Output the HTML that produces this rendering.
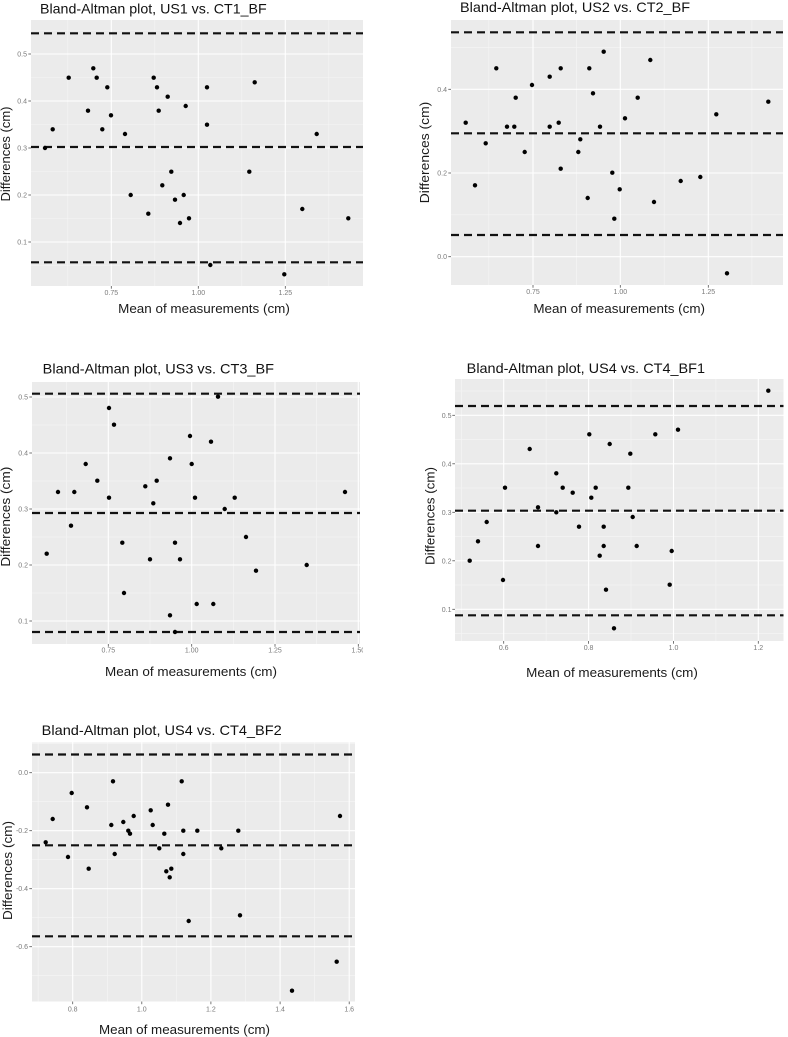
<!DOCTYPE html>
<html>
<head>
<meta charset="utf-8">
<style>
html,body{margin:0;padding:0;background:#fff;}
svg{display:block;}
text{font-family:"Liberation Sans",Arial,sans-serif;}
.t{font-size:14px;fill:#111;}
.ax{font-size:13px;fill:#1a1a1a;}
.tk{font-size:7px;fill:#7a7a7a;}
.mj{stroke:#fff;stroke-width:1.1;}
.mn{stroke:#f6f6f6;stroke-width:0.6;}
.ds{stroke:#111;stroke-width:2.2;stroke-dasharray:8 5;fill:none;}
.tm{stroke:#555;stroke-width:0.8;}
circle{fill:#000;}
</style>
</head>
<body>
<svg width="788" height="1037" viewBox="0 0 788 1037" xmlns="http://www.w3.org/2000/svg">
<rect x="0" y="0" width="788" height="1037" fill="#fff"/>
<defs>
<clipPath id="c3"><rect x="0" y="640" width="363" height="30"/></clipPath>
</defs>

<!-- ================= PANEL 1 ================= -->
<g>
<rect x="31" y="20" width="332" height="266" fill="#EBEBEB"/>
<g class="mn">
<line x1="31" x2="363" y1="265.5" y2="265.5"/><line x1="31" x2="363" y1="218.5" y2="218.5"/><line x1="31" x2="363" y1="171.5" y2="171.5"/><line x1="31" x2="363" y1="124.5" y2="124.5"/><line x1="31" x2="363" y1="77.5" y2="77.5"/><line x1="31" x2="363" y1="30.5" y2="30.5"/>
<line y1="20" y2="286" x1="67.8" x2="67.8"/><line y1="20" y2="286" x1="154.8" x2="154.8"/><line y1="20" y2="286" x1="241.8" x2="241.8"/><line y1="20" y2="286" x1="328.8" x2="328.8"/>
</g>
<g class="mj">
<line x1="31" x2="363" y1="242" y2="242"/><line x1="31" x2="363" y1="195" y2="195"/><line x1="31" x2="363" y1="148" y2="148"/><line x1="31" x2="363" y1="101" y2="101"/><line x1="31" x2="363" y1="54" y2="54"/>
<line y1="20" y2="286" x1="111.3" x2="111.3"/><line y1="20" y2="286" x1="198.3" x2="198.3"/><line y1="20" y2="286" x1="285.3" x2="285.3"/>
</g>
<g class="ds">
<line x1="31" x2="363" y1="33.3" y2="33.3"/><line x1="31" x2="363" y1="147" y2="147"/><line x1="31" x2="363" y1="262.3" y2="262.3"/>
</g>
<g class="tm">
<line x1="28.3" x2="31" y1="242" y2="242"/><line x1="28.3" x2="31" y1="195" y2="195"/><line x1="28.3" x2="31" y1="148" y2="148"/><line x1="28.3" x2="31" y1="101" y2="101"/><line x1="28.3" x2="31" y1="54" y2="54"/>
<line y1="286" y2="288.7" x1="111.3" x2="111.3"/><line y1="286" y2="288.7" x1="198.3" x2="198.3"/><line y1="286" y2="288.7" x1="285.3" x2="285.3"/>
</g>
<g class="tk" text-anchor="end">
<text x="27" y="244.5">0.1</text><text x="27" y="197.5">0.2</text><text x="27" y="150.5">0.3</text><text x="27" y="103.5">0.4</text><text x="27" y="56.5">0.5</text>
</g>
<g class="tk" text-anchor="middle">
<text x="111.3" y="295">0.75</text><text x="198.3" y="295">1.00</text><text x="285.3" y="295">1.25</text>
</g>
<g>
<circle cx="45" cy="148" r="2.2"/><circle cx="52.7" cy="129.3" r="2.2"/><circle cx="68.7" cy="77.7" r="2.2"/><circle cx="88" cy="110.7" r="2.2"/><circle cx="93.3" cy="68.3" r="2.2"/><circle cx="96.7" cy="77.7" r="2.2"/><circle cx="102.3" cy="129.3" r="2.2"/><circle cx="107.3" cy="87.3" r="2.2"/><circle cx="111" cy="115.3" r="2.2"/><circle cx="125" cy="134" r="2.2"/><circle cx="130.7" cy="195" r="2.2"/><circle cx="148.3" cy="213.7" r="2.2"/><circle cx="153.7" cy="77.7" r="2.2"/><circle cx="157" cy="87.3" r="2.2"/><circle cx="158.7" cy="110.7" r="2.2"/><circle cx="162.3" cy="185.3" r="2.2"/><circle cx="167.7" cy="96.7" r="2.2"/><circle cx="171.3" cy="171.7" r="2.2"/><circle cx="175" cy="199.7" r="2.2"/><circle cx="180" cy="223" r="2.2"/><circle cx="183.7" cy="195" r="2.2"/><circle cx="185.7" cy="106" r="2.2"/><circle cx="189" cy="218.3" r="2.2"/><circle cx="207" cy="87.3" r="2.2"/><circle cx="207" cy="124.7" r="2.2"/><circle cx="210.3" cy="265" r="2.2"/><circle cx="249.3" cy="171.7" r="2.2"/><circle cx="254.7" cy="82.3" r="2.2"/><circle cx="284.3" cy="274.3" r="2.2"/><circle cx="302.3" cy="209" r="2.2"/><circle cx="316.7" cy="134" r="2.2"/><circle cx="348.3" cy="218.3" r="2.2"/>
</g>
<text class="t" x="40" y="13.5" textLength="226.7" lengthAdjust="spacingAndGlyphs">Bland-Altman plot, US1 vs. CT1_BF</text>
<text class="ax" x="204" y="313" text-anchor="middle" textLength="171.7" lengthAdjust="spacingAndGlyphs">Mean of measurements (cm)</text>
<text class="ax" transform="translate(10,154) rotate(-90)" text-anchor="middle" textLength="95" lengthAdjust="spacingAndGlyphs">Differences (cm)</text>
</g>

<!-- ================= PANEL 2 ================= -->
<g>
<rect x="451" y="20" width="332" height="265" fill="#EBEBEB"/>
<g class="mn">
<line x1="451" x2="783" y1="214.8" y2="214.8"/><line x1="451" x2="783" y1="131.1" y2="131.1"/><line x1="451" x2="783" y1="47.4" y2="47.4"/>
<line y1="20" y2="285" x1="488.8" x2="488.8"/><line y1="20" y2="285" x1="576.5" x2="576.5"/><line y1="20" y2="285" x1="664.2" x2="664.2"/><line y1="20" y2="285" x1="751.9" x2="751.9"/>
</g>
<g class="mj">
<line x1="451" x2="783" y1="256.7" y2="256.7"/><line x1="451" x2="783" y1="173" y2="173"/><line x1="451" x2="783" y1="89.3" y2="89.3"/>
<line y1="20" y2="285" x1="533" x2="533"/><line y1="20" y2="285" x1="620.3" x2="620.3"/><line y1="20" y2="285" x1="708.3" x2="708.3"/>
</g>
<g class="ds">
<line x1="451" x2="783" y1="32.3" y2="32.3"/><line x1="451" x2="783" y1="133.3" y2="133.3"/><line x1="451" x2="783" y1="235" y2="235"/>
</g>
<g class="tm">
<line x1="448.3" x2="451" y1="256.7" y2="256.7"/><line x1="448.3" x2="451" y1="173" y2="173"/><line x1="448.3" x2="451" y1="89.3" y2="89.3"/>
<line y1="285" y2="287.7" x1="533" x2="533"/><line y1="285" y2="287.7" x1="620.3" x2="620.3"/><line y1="285" y2="287.7" x1="708.3" x2="708.3"/>
</g>
<g class="tk" text-anchor="end">
<text x="447" y="259.2">0.0</text><text x="447" y="175.5">0.2</text><text x="447" y="91.8">0.4</text>
</g>
<g class="tk" text-anchor="middle">
<text x="533" y="294">0.75</text><text x="620.3" y="294">1.00</text><text x="708.3" y="294">1.25</text>
</g>
<g>
<circle cx="465.7" cy="122.7" r="2.2"/><circle cx="475" cy="185.3" r="2.2"/><circle cx="485.7" cy="143.3" r="2.2"/><circle cx="496.3" cy="68.3" r="2.2"/><circle cx="507" cy="126.7" r="2.2"/><circle cx="514.3" cy="126.7" r="2.2"/><circle cx="515.7" cy="97.7" r="2.2"/><circle cx="524.7" cy="152" r="2.2"/><circle cx="532" cy="85" r="2.2"/><circle cx="549.7" cy="76.7" r="2.2"/><circle cx="549.7" cy="126.7" r="2.2"/><circle cx="558.7" cy="122.7" r="2.2"/><circle cx="560.7" cy="68.3" r="2.2"/><circle cx="560.7" cy="168.7" r="2.2"/><circle cx="578.3" cy="152" r="2.2"/><circle cx="580.3" cy="139.3" r="2.2"/><circle cx="587.7" cy="198" r="2.2"/><circle cx="589.3" cy="68.3" r="2.2"/><circle cx="593" cy="93.3" r="2.2"/><circle cx="600" cy="126.7" r="2.2"/><circle cx="603.7" cy="51.7" r="2.2"/><circle cx="612.3" cy="172.7" r="2.2"/><circle cx="614.3" cy="218.7" r="2.2"/><circle cx="619.7" cy="189.3" r="2.2"/><circle cx="625" cy="118.3" r="2.2"/><circle cx="637.7" cy="97.7" r="2.2"/><circle cx="650.3" cy="60" r="2.2"/><circle cx="654" cy="202" r="2.2"/><circle cx="680.7" cy="181" r="2.2"/><circle cx="700.3" cy="177" r="2.2"/><circle cx="716.3" cy="114.3" r="2.2"/><circle cx="727" cy="273.3" r="2.2"/><circle cx="768.3" cy="101.7" r="2.2"/>
</g>
<text class="t" x="460" y="12" textLength="230" lengthAdjust="spacingAndGlyphs">Bland-Altman plot, US2 vs. CT2_BF</text>
<text class="ax" x="619.2" y="313" text-anchor="middle" textLength="171.7" lengthAdjust="spacingAndGlyphs">Mean of measurements (cm)</text>
<text class="ax" transform="translate(429,152.5) rotate(-90)" text-anchor="middle" textLength="101.6" lengthAdjust="spacingAndGlyphs">Differences (cm)</text>
</g>

<!-- ================= PANEL 3 ================= -->
<g>
<rect x="32" y="382" width="328" height="262" fill="#EBEBEB"/>
<g class="mn">
<line x1="32" x2="360" y1="593" y2="593"/><line x1="32" x2="360" y1="537" y2="537"/><line x1="32" x2="360" y1="481" y2="481"/><line x1="32" x2="360" y1="425" y2="425"/>
<line y1="382" y2="644" x1="66.7" x2="66.7"/><line y1="382" y2="644" x1="150" x2="150"/><line y1="382" y2="644" x1="233.3" x2="233.3"/><line y1="382" y2="644" x1="316.7" x2="316.7"/>
</g>
<g class="mj">
<line x1="32" x2="360" y1="621" y2="621"/><line x1="32" x2="360" y1="565" y2="565"/><line x1="32" x2="360" y1="509" y2="509"/><line x1="32" x2="360" y1="453" y2="453"/><line x1="32" x2="360" y1="397" y2="397"/>
<line y1="382" y2="644" x1="108.3" x2="108.3"/><line y1="382" y2="644" x1="191.7" x2="191.7"/><line y1="382" y2="644" x1="275" x2="275"/><line y1="382" y2="644" x1="358.3" x2="358.3"/>
</g>
<g class="ds">
<line x1="32" x2="360" y1="393.7" y2="393.7"/><line x1="32" x2="360" y1="513" y2="513"/><line x1="32" x2="360" y1="632" y2="632"/>
</g>
<g class="tm">
<line x1="29.3" x2="32" y1="621" y2="621"/><line x1="29.3" x2="32" y1="565" y2="565"/><line x1="29.3" x2="32" y1="509" y2="509"/><line x1="29.3" x2="32" y1="453" y2="453"/><line x1="29.3" x2="32" y1="397" y2="397"/>
<line y1="644" y2="646.7" x1="108.3" x2="108.3"/><line y1="644" y2="646.7" x1="191.7" x2="191.7"/><line y1="644" y2="646.7" x1="275" x2="275"/><line y1="644" y2="646.7" x1="358.3" x2="358.3"/>
</g>
<g class="tk" text-anchor="end">
<text x="28" y="623.5">0.1</text><text x="28" y="567.5">0.2</text><text x="28" y="511.5">0.3</text><text x="28" y="455.5">0.4</text><text x="28" y="399.5">0.5</text>
</g>
<g class="tk" text-anchor="middle">
<text x="108.3" y="652.5">0.75</text><text x="191.7" y="652.5">1.00</text><text x="275" y="652.5">1.25</text><text x="358.3" y="652.5" clip-path="url(#c3)">1.50</text>
</g>
<g>
<circle cx="46.7" cy="553.7" r="2.2"/><circle cx="58" cy="492" r="2.2"/><circle cx="71" cy="525.7" r="2.2"/><circle cx="74.3" cy="492" r="2.2"/><circle cx="85.7" cy="464" r="2.2"/><circle cx="97.3" cy="480.7" r="2.2"/><circle cx="109" cy="408" r="2.2"/><circle cx="109" cy="497.7" r="2.2"/><circle cx="114" cy="424.7" r="2.2"/><circle cx="122.3" cy="542.7" r="2.2"/><circle cx="124" cy="593" r="2.2"/><circle cx="145.3" cy="486.3" r="2.2"/><circle cx="150" cy="559.3" r="2.2"/><circle cx="153.3" cy="503.3" r="2.2"/><circle cx="156.7" cy="480.7" r="2.2"/><circle cx="170" cy="458.3" r="2.2"/><circle cx="170" cy="615.3" r="2.2"/><circle cx="175" cy="542.7" r="2.2"/><circle cx="175" cy="632" r="2.2"/><circle cx="180" cy="559.3" r="2.2"/><circle cx="190" cy="436" r="2.2"/><circle cx="191.7" cy="464" r="2.2"/><circle cx="195" cy="497.7" r="2.2"/><circle cx="196.7" cy="604" r="2.2"/><circle cx="211" cy="441.7" r="2.2"/><circle cx="213.3" cy="604" r="2.2"/><circle cx="218" cy="396.7" r="2.2"/><circle cx="224.7" cy="509" r="2.2"/><circle cx="234.7" cy="497.7" r="2.2"/><circle cx="246" cy="537" r="2.2"/><circle cx="256" cy="570.7" r="2.2"/><circle cx="306.7" cy="565" r="2.2"/><circle cx="345" cy="492" r="2.2"/>
</g>
<text class="t" x="42.7" y="373.5" textLength="231.3" lengthAdjust="spacingAndGlyphs">Bland-Altman plot, US3 vs. CT3_BF</text>
<text class="ax" x="191" y="676" text-anchor="middle" textLength="172" lengthAdjust="spacingAndGlyphs">Mean of measurements (cm)</text>
<text class="ax" transform="translate(10,516.7) rotate(-90)" text-anchor="middle" textLength="100" lengthAdjust="spacingAndGlyphs">Differences (cm)</text>
</g>

<!-- ================= PANEL 4 ================= -->
<g>
<rect x="455" y="379" width="328.5" height="262" fill="#EBEBEB"/>
<g class="mn">
<line x1="455" x2="783.5" y1="633.6" y2="633.6"/><line x1="455" x2="783.5" y1="585" y2="585"/><line x1="455" x2="783.5" y1="536.6" y2="536.6"/><line x1="455" x2="783.5" y1="488" y2="488"/><line x1="455" x2="783.5" y1="439.6" y2="439.6"/><line x1="455" x2="783.5" y1="391" y2="391"/>
<line y1="379" y2="641" x1="461.3" x2="461.3"/><line y1="379" y2="641" x1="546.1" x2="546.1"/><line y1="379" y2="641" x1="631" x2="631"/><line y1="379" y2="641" x1="715.9" x2="715.9"/>
</g>
<g class="mj">
<line x1="455" x2="783.5" y1="609.3" y2="609.3"/><line x1="455" x2="783.5" y1="560.8" y2="560.8"/><line x1="455" x2="783.5" y1="512.3" y2="512.3"/><line x1="455" x2="783.5" y1="463.8" y2="463.8"/><line x1="455" x2="783.5" y1="415.3" y2="415.3"/>
<line y1="379" y2="641" x1="503.7" x2="503.7"/><line y1="379" y2="641" x1="588.6" x2="588.6"/><line y1="379" y2="641" x1="673.5" x2="673.5"/><line y1="379" y2="641" x1="758.3" x2="758.3"/>
</g>
<g class="ds">
<line x1="455" x2="783.5" y1="406" y2="406"/><line x1="455" x2="783.5" y1="510.7" y2="510.7"/><line x1="455" x2="783.5" y1="615.3" y2="615.3"/>
</g>
<g class="tm">
<line x1="452.3" x2="455" y1="609.3" y2="609.3"/><line x1="452.3" x2="455" y1="560.8" y2="560.8"/><line x1="452.3" x2="455" y1="512.3" y2="512.3"/><line x1="452.3" x2="455" y1="463.8" y2="463.8"/><line x1="452.3" x2="455" y1="415.3" y2="415.3"/>
<line y1="641" y2="643.7" x1="503.7" x2="503.7"/><line y1="641" y2="643.7" x1="588.6" x2="588.6"/><line y1="641" y2="643.7" x1="673.5" x2="673.5"/><line y1="641" y2="643.7" x1="758.3" x2="758.3"/>
</g>
<g class="tk" text-anchor="end">
<text x="451.5" y="611.8">0.1</text><text x="451.5" y="563.3">0.2</text><text x="451.5" y="514.8">0.3</text><text x="451.5" y="466.3">0.4</text><text x="451.5" y="417.8">0.5</text>
</g>
<g class="tk" text-anchor="middle">
<text x="503.7" y="650">0.6</text><text x="588.6" y="650">0.8</text><text x="673.5" y="650">1.0</text><text x="758.3" y="650">1.2</text>
</g>
<g>
<circle cx="469.7" cy="560.7" r="2.2"/><circle cx="478" cy="541.3" r="2.2"/><circle cx="486.7" cy="522" r="2.2"/><circle cx="503" cy="580" r="2.2"/><circle cx="505" cy="487.7" r="2.2"/><circle cx="529.7" cy="449" r="2.2"/><circle cx="538" cy="507.3" r="2.2"/><circle cx="538" cy="546" r="2.2"/><circle cx="556.3" cy="473.3" r="2.2"/><circle cx="556.3" cy="512.3" r="2.2"/><circle cx="562.7" cy="487.7" r="2.2"/><circle cx="572.7" cy="492.7" r="2.2"/><circle cx="579" cy="526.7" r="2.2"/><circle cx="589.3" cy="434.3" r="2.2"/><circle cx="591.3" cy="497.7" r="2.2"/><circle cx="595.7" cy="487.7" r="2.2"/><circle cx="599.7" cy="555.7" r="2.2"/><circle cx="603.7" cy="526.7" r="2.2"/><circle cx="603.7" cy="546" r="2.2"/><circle cx="606" cy="589.7" r="2.2"/><circle cx="609.7" cy="444" r="2.2"/><circle cx="614" cy="628.3" r="2.2"/><circle cx="628.3" cy="487.7" r="2.2"/><circle cx="630.3" cy="453.7" r="2.2"/><circle cx="632.7" cy="517" r="2.2"/><circle cx="636.7" cy="546" r="2.2"/><circle cx="655.3" cy="434.3" r="2.2"/><circle cx="669.7" cy="584.7" r="2.2"/><circle cx="671.7" cy="551" r="2.2"/><circle cx="678" cy="429.7" r="2.2"/><circle cx="768.3" cy="390.7" r="2.2"/>
</g>
<text class="t" x="466.7" y="373" textLength="238.3" lengthAdjust="spacingAndGlyphs">Bland-Altman plot, US4 vs. CT4_BF1</text>
<text class="ax" x="612" y="677" text-anchor="middle" textLength="171.7" lengthAdjust="spacingAndGlyphs">Mean of measurements (cm)</text>
<text class="ax" transform="translate(434.5,516) rotate(-90)" text-anchor="middle" textLength="98" lengthAdjust="spacingAndGlyphs">Differences (cm)</text>
</g>

<!-- ================= PANEL 5 ================= -->
<g>
<rect x="32" y="742.5" width="323" height="259" fill="#EBEBEB"/>
<g class="mn">
<line x1="32" x2="355" y1="743.7" y2="743.7"/><line x1="32" x2="355" y1="801.7" y2="801.7"/><line x1="32" x2="355" y1="859.7" y2="859.7"/><line x1="32" x2="355" y1="917.7" y2="917.7"/><line x1="32" x2="355" y1="975.7" y2="975.7"/>
<line y1="742.5" y2="1001.5" x1="38.1" x2="38.1"/><line y1="742.5" y2="1001.5" x1="107.3" x2="107.3"/><line y1="742.5" y2="1001.5" x1="176.4" x2="176.4"/><line y1="742.5" y2="1001.5" x1="245.5" x2="245.5"/><line y1="742.5" y2="1001.5" x1="314.6" x2="314.6"/>
</g>
<g class="mj">
<line x1="32" x2="355" y1="772.7" y2="772.7"/><line x1="32" x2="355" y1="830.7" y2="830.7"/><line x1="32" x2="355" y1="888.7" y2="888.7"/><line x1="32" x2="355" y1="946.7" y2="946.7"/>
<line y1="742.5" y2="1001.5" x1="72.7" x2="72.7"/><line y1="742.5" y2="1001.5" x1="141.8" x2="141.8"/><line y1="742.5" y2="1001.5" x1="210.9" x2="210.9"/><line y1="742.5" y2="1001.5" x1="280.1" x2="280.1"/><line y1="742.5" y2="1001.5" x1="349.2" x2="349.2"/>
</g>
<g class="ds">
<line x1="32" x2="355" y1="754.5" y2="754.5"/><line x1="32" x2="355" y1="845.3" y2="845.3"/><line x1="32" x2="355" y1="936.3" y2="936.3"/>
</g>
<g class="tm">
<line x1="29.3" x2="32" y1="772.7" y2="772.7"/><line x1="29.3" x2="32" y1="830.7" y2="830.7"/><line x1="29.3" x2="32" y1="888.7" y2="888.7"/><line x1="29.3" x2="32" y1="946.7" y2="946.7"/>
<line y1="1001.5" y2="1004.2" x1="72.7" x2="72.7"/><line y1="1001.5" y2="1004.2" x1="141.8" x2="141.8"/><line y1="1001.5" y2="1004.2" x1="210.9" x2="210.9"/><line y1="1001.5" y2="1004.2" x1="280.1" x2="280.1"/><line y1="1001.5" y2="1004.2" x1="349.2" x2="349.2"/>
</g>
<g class="tk" text-anchor="end">
<text x="28" y="775.2">0.0</text><text x="28" y="833.2">-0.2</text><text x="28" y="891.2">-0.4</text><text x="28" y="949.2">-0.6</text>
</g>
<g class="tk" text-anchor="middle">
<text x="72.7" y="1011.5">0.8</text><text x="141.8" y="1011.5">1.0</text><text x="210.9" y="1011.5">1.2</text><text x="280.1" y="1011.5">1.4</text><text x="349.2" y="1011.5">1.6</text>
</g>
<g>
<circle cx="45.7" cy="842.3" r="2.2"/><circle cx="52.7" cy="819" r="2.2"/><circle cx="68" cy="857" r="2.2"/><circle cx="71.7" cy="793" r="2.2"/><circle cx="87" cy="807.3" r="2.2"/><circle cx="88.7" cy="868.7" r="2.2"/><circle cx="111.3" cy="825" r="2.2"/><circle cx="113" cy="781.3" r="2.2"/><circle cx="114.7" cy="854" r="2.2"/><circle cx="123.3" cy="822" r="2.2"/><circle cx="128.3" cy="830.7" r="2.2"/><circle cx="130" cy="833.7" r="2.2"/><circle cx="133.7" cy="816" r="2.2"/><circle cx="150.7" cy="810.3" r="2.2"/><circle cx="152.7" cy="825" r="2.2"/><circle cx="159.3" cy="848.3" r="2.2"/><circle cx="164.3" cy="833.7" r="2.2"/><circle cx="166.3" cy="871.3" r="2.2"/><circle cx="168" cy="804.7" r="2.2"/><circle cx="169.7" cy="877.3" r="2.2"/><circle cx="171.3" cy="868.7" r="2.2"/><circle cx="181.7" cy="781.3" r="2.2"/><circle cx="183.3" cy="830.7" r="2.2"/><circle cx="183.3" cy="854" r="2.2"/><circle cx="188.7" cy="921" r="2.2"/><circle cx="197.3" cy="830.7" r="2.2"/><circle cx="221.3" cy="848.3" r="2.2"/><circle cx="238.3" cy="830.7" r="2.2"/><circle cx="240" cy="915.3" r="2.2"/><circle cx="292" cy="990.7" r="2.2"/><circle cx="336.7" cy="961.7" r="2.2"/><circle cx="340" cy="816" r="2.2"/>
</g>
<text class="t" x="41.7" y="735" textLength="240" lengthAdjust="spacingAndGlyphs">Bland-Altman plot, US4 vs. CT4_BF2</text>
<text class="ax" x="184.5" y="1034" text-anchor="middle" textLength="171" lengthAdjust="spacingAndGlyphs">Mean of measurements (cm)</text>
<text class="ax" transform="translate(12,870.5) rotate(-90)" text-anchor="middle" textLength="99" lengthAdjust="spacingAndGlyphs">Differences (cm)</text>
</g>
</svg>
</body>
</html>
